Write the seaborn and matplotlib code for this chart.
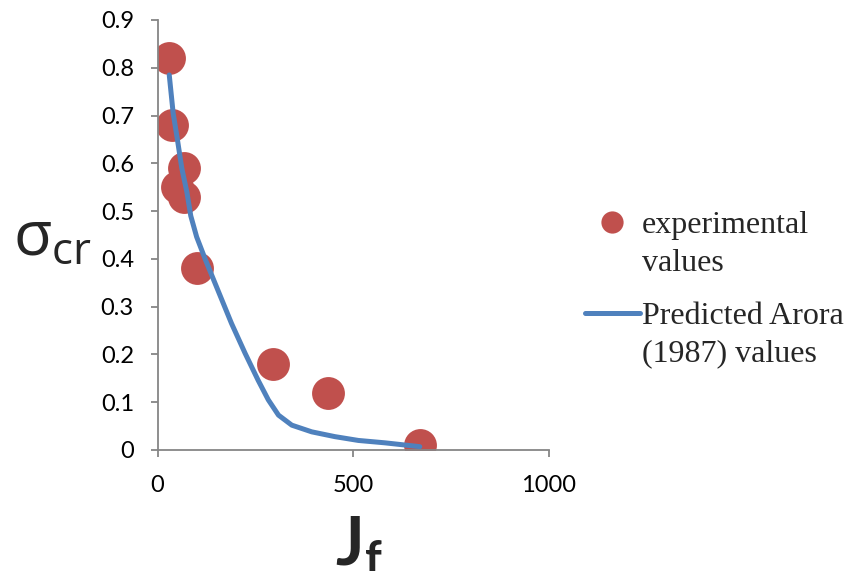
import numpy as np
import pandas as pd
import seaborn as sns
import matplotlib
matplotlib.use("Agg")
import matplotlib.pyplot as plt
from matplotlib.lines import Line2D
from matplotlib.legend_handler import HandlerLine2D

# ---- data ----
exp_x = [30, 38, 49, 67, 68, 100, 295, 435, 671]
exp_y = [0.82, 0.68, 0.55, 0.59, 0.53, 0.38, 0.18, 0.12, 0.01]
pred_x = [30, 40, 51, 62, 75, 85, 100, 123, 155, 189, 224, 257, 283, 309,
          343, 394, 453, 513, 581, 670]
pred_y = [0.785, 0.705, 0.649, 0.59, 0.54, 0.49, 0.446, 0.397, 0.333, 0.265,
          0.202, 0.146, 0.105, 0.073, 0.052, 0.038, 0.028, 0.020, 0.015, 0.007]
x_ticks = [0, 500, 1000]
x_ticklabels = ["0", "500", "1000"]
y_ticks = [0, 0.1, 0.2, 0.3, 0.4, 0.5, 0.6, 0.7, 0.8, 0.9]
y_ticklabels = ["0", "0.1", "0.2", "0.3", "0.4", "0.5", "0.6", "0.7", "0.8", "0.9"]
legend_labels = ["experimental\nvalues", "Predicted Arora\n(1987) values"]

RED = "#C0504D"
BLUE = "#4F81BD"
GRAY = "#868686"

sns.set_theme(style="white")
plt.rcParams["font.family"] = ["Lato", "DejaVu Sans"]
plt.rcParams["mathtext.fontset"] = "custom"
plt.rcParams["mathtext.rm"] = "Open Sans"
plt.rcParams["mathtext.it"] = "Open Sans"
plt.rcParams["mathtext.bf"] = "Lato:bold"

W, H = 851, 571
fig = plt.figure(figsize=(W / 100, H / 100), dpi=100)
ax = fig.add_axes([157.5 / W, 1 - 450 / H, (549 - 157.5) / W, (450 - 20) / H])

exp_df = pd.DataFrame({"x": exp_x, "y": exp_y})
pred_df = pd.DataFrame({"x": pred_x, "y": pred_y})

sns.scatterplot(data=exp_df, x="x", y="y", ax=ax, s=560, color=RED,
                linewidth=0, zorder=2, legend=False)
sns.lineplot(data=pred_df, x="x", y="y", ax=ax, color=BLUE, lw=3.6,
             sort=False, estimator=None, zorder=3, legend=False,
             solid_capstyle="round", solid_joinstyle="round")

ax.set_xlim(0, 1000)
ax.set_ylim(0, 0.9)
ax.set_xticks(x_ticks)
ax.set_xticklabels(x_ticklabels)
ax.set_yticks(y_ticks)
ax.set_yticklabels(y_ticklabels)
ax.set_xlabel("")
ax.set_ylabel("")
for s in ["top", "right"]:
    ax.spines[s].set_visible(False)
for s in ["left", "bottom"]:
    ax.spines[s].set_color(GRAY)
    ax.spines[s].set_linewidth(1.3)
ax.tick_params(axis="both", which="major", direction="out", length=5,
               width=1.3, color=GRAY, labelsize=17, labelcolor="black")
ax.tick_params(axis="y", pad=12, left=True)
ax.tick_params(axis="x", pad=13, bottom=True)
ax.set_facecolor("white")
ax.grid(False)

# axis titles
fig.text(13 / W, 1 - 255 / H, r"$\sigma_{\mathrm{cr}}$", fontsize=45,
         ha="left", va="baseline")
fig.text(335 / W, 1 - 565 / H, r"$\mathbf{J}_{\mathbf{f}}$", fontsize=48,
         ha="left", va="baseline")


class ShiftedHandler(HandlerLine2D):
    def __init__(self, dy=0.0, **kw):
        super().__init__(**kw)
        self.dy = dy

    def create_artists(self, legend, orig_handle, xdescent, ydescent,
                       width, height, fontsize, trans):
        arts = super().create_artists(legend, orig_handle, xdescent, ydescent,
                                      width, height, fontsize, trans)
        for a in arts:
            a.set_ydata(np.asarray(a.get_ydata(), dtype=float) + self.dy * fontsize)
        return arts


h_exp = Line2D([], [], ls="none", marker="o", ms=16, mfc=RED, mec=RED, mew=0)
h_pred = Line2D([], [], color=BLUE, lw=3.6, solid_capstyle="round")
leg = fig.legend([h_exp, h_pred], legend_labels, loc="upper left",
                 bbox_to_anchor=(585 / W, 1 - 211 / H), frameon=False,
                 prop={"family": ["Liberation Serif"], "size": 23},
                 borderpad=0, borderaxespad=0, handlelength=1.72,
                 handletextpad=0.05, labelspacing=0.75,
                 handler_map={Line2D: ShiftedHandler(dy=0.7)})
for t in leg.get_texts():
    t.set_linespacing(1.4)

fig.savefig("out.png", dpi=100, facecolor="white")
